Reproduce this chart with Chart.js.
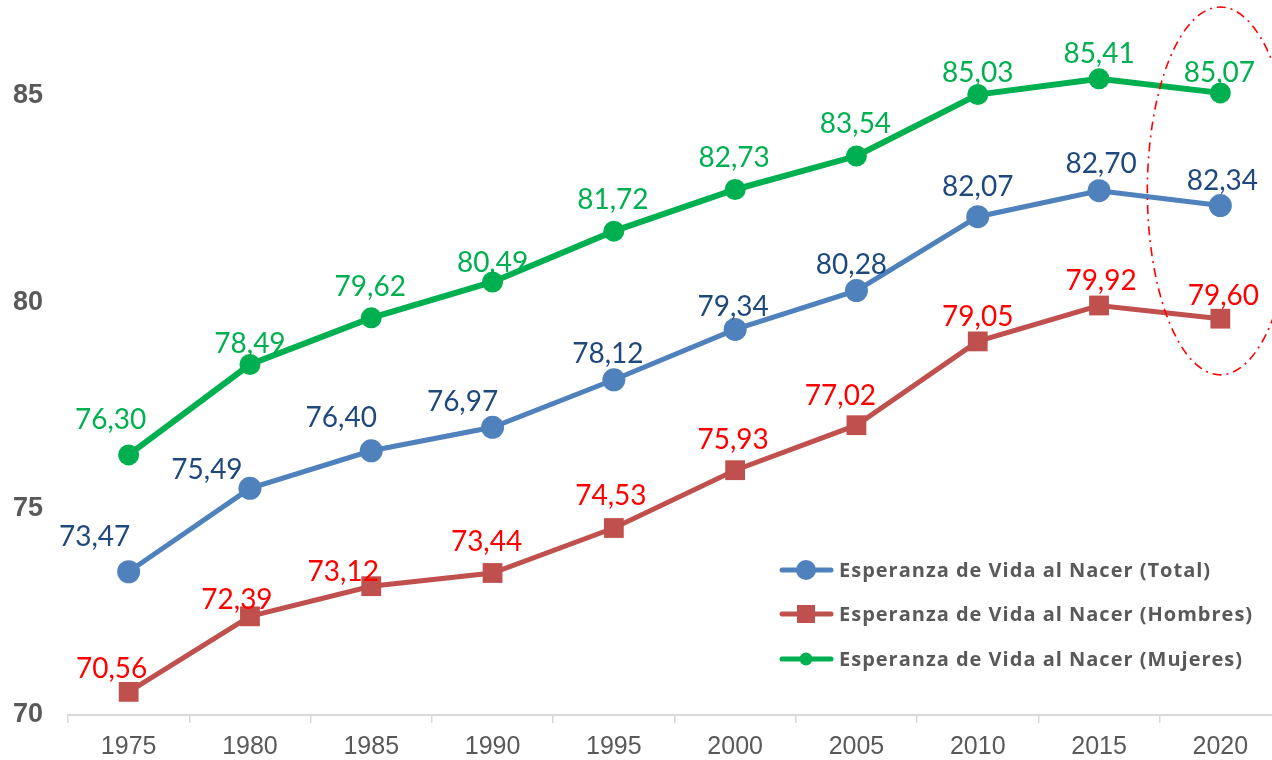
<!DOCTYPE html>
<html><head><meta charset="utf-8">
<script src="https://cdn.jsdelivr.net/npm/chart.js@4/dist/chart.umd.min.js"></script>
<style>html,body{margin:0;padding:0;overflow:hidden;background:#fff}</style>
</head><body>
<canvas id="c" width="1281" height="760"></canvas>
<script>
const years = ['1975','1980','1985','1990','1995','2000','2005','2010','2015','2020'];
const total   = [73.47, 75.49, 76.40, 76.97, 78.12, 79.34, 80.28, 82.07, 82.70, 82.34];
const hombres = [70.56, 72.39, 73.12, 73.44, 74.53, 75.93, 77.02, 79.05, 79.92, 79.60];
const mujeres = [76.30, 78.49, 79.62, 80.49, 81.72, 82.73, 83.54, 85.03, 85.41, 85.07];
const yTicks = [70, 75, 80, 85];
const seriesNames = ['Esperanza de Vida al Nacer (Total)', 'Esperanza de Vida al Nacer (Hombres)', 'Esperanza de Vida al Nacer (Mujeres)'];
const highlightYear = '2020';

// label offsets (dx, dy) relative to each point
const labelOffsets = [
  [[-34,-35],[-43,-18],[-30,-33],[-30,-25],[-6,-26],[-2,-22],[-5,-26],[0,-30],[2,-27],[2,-25]],
  [[-17,-23],[-13,-16],[-28,-14],[-6,-31],[-3,-32],[-2,-30],[-16,-29],[0,-24],[2,-25],[3,-23]],
  [[-18,-35],[0,-21],[-1,-31],[0,-19],[-1,-31],[-1,-32],[-1,-32],[0,-22],[0,-25],[-1,-20]]
];
const labelColors = ['#1f497d', '#ff0000', '#00b050'];

const dataLabelPlugin = {
  id: 'dataLabels',
  afterDatasetsDraw(chart) {
    const ctx = chart.ctx;
    ctx.save();
    ctx.font = '28px Lato';
    ctx.textAlign = 'center';
    ctx.textBaseline = 'middle';
    chart.data.datasets.forEach((ds, i) => {
      const meta = chart.getDatasetMeta(i);
      meta.data.forEach((pt, j) => {
        const [dx, dy] = labelOffsets[i][j];
        ctx.fillStyle = labelColors[i];
        ctx.fillText(ds.data[j].toFixed(2).replace('.', ','), pt.x + dx, pt.y + dy);
      });
    });
    ctx.restore();
  }
};

const legendPlugin = {
  id: 'innerLegend',
  afterDraw(chart) {
    const ctx = chart.ctx;
    const rows = [570, 614, 659];
    const markerR = [10, 9, 6.5];
    ctx.save();
    chart.data.datasets.forEach((ds, i) => {
      const y = rows[i];
      ctx.strokeStyle = ds.borderColor;
      ctx.lineWidth = 5;
      ctx.lineCap = 'round';
      ctx.beginPath(); ctx.moveTo(782, y); ctx.lineTo(831, y); ctx.stroke();
      ctx.fillStyle = ds.backgroundColor;
      ctx.beginPath();
      if (ds.pointStyle === 'rect') ctx.rect(806 - markerR[i], y - markerR[i], markerR[i]*2, markerR[i]*2);
      else ctx.arc(806, y, markerR[i], 0, Math.PI*2);
      ctx.fill();
      ctx.fillStyle = '#595959';
      ctx.font = 'bold 20px "Open Sans"';
      ctx.letterSpacing = '1px';
      ctx.textAlign = 'left';
      ctx.textBaseline = 'middle';
      ctx.fillText(ds.label, 839, y + 1);
    });
    ctx.restore();
  }
};

const ellipsePlugin = {
  id: 'highlight',
  afterDraw(chart) {
    const ctx = chart.ctx;
    const xs = chart.scales.x, ys = chart.scales.y;
    const cx = xs.getPixelForValue(years.indexOf(highlightYear));
    const top = ys.getPixelForValue(87.15), bot = ys.getPixelForValue(78.24);
    ctx.save();
    ctx.strokeStyle = '#ff0000';
    ctx.lineWidth = 1.6;
    ctx.setLineDash([9, 5, 2, 5]);
    ctx.beginPath();
    ctx.ellipse(cx, (top + bot) / 2, 73, (bot - top) / 2, 0, 0, Math.PI * 2);
    ctx.stroke();
    ctx.restore();
  }
};

new Chart(document.getElementById('c'), {
  type: 'line',
  data: {
    labels: years,
    datasets: [
      { label: seriesNames[0], data: total, borderColor: '#4f81bd', backgroundColor: '#4f81bd',
        borderWidth: 5, pointStyle: 'circle', pointRadius: 11.5, pointHoverRadius: 11.5, pointBorderWidth: 0, pointBackgroundColor: '#4f81bd' },
      { label: seriesNames[1], data: hombres, borderColor: '#c0504d', backgroundColor: '#c0504d',
        borderWidth: 5, pointStyle: 'rect', pointRadius: 14, pointHoverRadius: 14, pointBorderWidth: 0, pointBackgroundColor: '#c0504d' },
      { label: seriesNames[2], data: mujeres, borderColor: '#00b050', backgroundColor: '#00b050',
        borderWidth: 6, pointStyle: 'circle', pointRadius: 10.5, pointHoverRadius: 10.5, pointBorderWidth: 0, pointBackgroundColor: '#00b050' }
    ]
  },
  options: {
    responsive: false,
    animation: false,
    layout: { padding: 0, autoPadding: false },
    plugins: { legend: { display: false }, tooltip: { enabled: false } },
    scales: {
      x: {
        type: 'category',
        offset: true,
        grid: { display: true, offset: true, drawOnChartArea: false, drawTicks: true, tickLength: 8, color: '#d9d9d9', lineWidth: 1.5 },
        border: { display: true, color: '#d9d9d9', width: 2 },
        ticks: { color: '#595959', font: { family: 'Liberation Sans', size: 25 }, padding: 9, maxRotation: 0 },
        afterFit(axis) { axis.height = 45; axis.paddingLeft = 0; axis.paddingRight = 0; }
      },
      y: {
        min: 70, max: 87.32,
        bounds: 'data',
        grid: { display: false, drawTicks: false },
        border: { display: false },
        ticks: { color: '#595959', font: { family: 'Liberation Sans', size: 27, weight: 'bold' }, padding: 25 },
        afterBuildTicks(axis) { axis.ticks = yTicks.map(v => ({ value: v })); },
        afterFit(axis) { axis.width = 68; axis.paddingTop = 0; axis.paddingBottom = 0; }
      }
    }
  },
  plugins: [dataLabelPlugin, legendPlugin, ellipsePlugin]
});
</script>
</body></html>
